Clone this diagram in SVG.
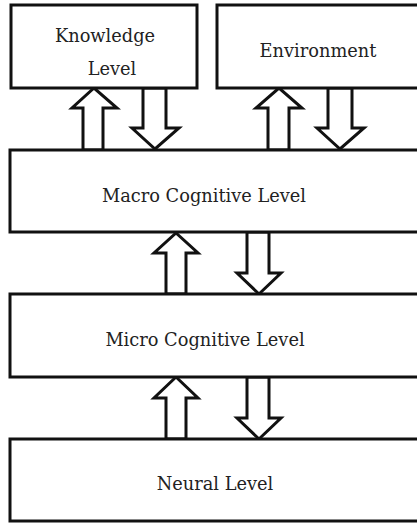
<svg xmlns="http://www.w3.org/2000/svg" width="417" height="524" viewBox="0 0 417 524">
<style>
.box{fill:#fff;stroke:#111;stroke-width:3}
.arr{fill:#fff;stroke:#111;stroke-width:3;stroke-linejoin:miter}
text{font-family:"DejaVu Serif","Liberation Serif",serif;font-size:17.8px;fill:#222;text-anchor:middle}
</style>
<rect width="417" height="524" fill="#fff"/>
<g id="connectors">
<path class="arr" d="M83,150 V108 H72 L94,88 L117,108 H103 V150 Z"/>
<path class="arr" d="M143,88 V128 H132 L155,149 L179,128 H166 V88 Z"/>
<path class="arr" d="M268,150 V108 H256 L279,88 L302,108 H289 V150 Z"/>
<path class="arr" d="M328,88 V128 H317 L340,149 L364,128 H352 V88 Z"/>
<path class="arr" d="M166,294 V253 H154 L176,233 L198,253 H186 V294 Z"/>
<path class="arr" d="M247,232 V273 H237 L259,294 L281,273 H269 V232 Z"/>
<path class="arr" d="M166,439 V398 H154 L176,377 L198,398 H186 V439 Z"/>
<path class="arr" d="M247,377 V418 H237 L259,439 L281,418 H269 V377 Z"/>
</g>
<g id="knowledge">
<rect class="box" x="11" y="5" width="186" height="83"/>
<text x="105" y="42">Knowledge</text>
<text x="112" y="75">Level</text>
</g>
<g id="environment">
<rect class="box" x="217" y="5" width="210" height="83"/>
<text x="318" y="57">Environment</text>
</g>
<g id="macro">
<rect class="box" x="10" y="150" width="420" height="82"/>
<text x="204" y="202">Macro Cognitive Level</text>
</g>
<g id="micro">
<rect class="box" x="10" y="294" width="420" height="83"/>
<text x="205" y="346">Micro Cognitive Level</text>
</g>
<g id="neural">
<rect class="box" x="10" y="439" width="420" height="82"/>
<text x="215" y="490">Neural Level</text>
</g>
</svg>
